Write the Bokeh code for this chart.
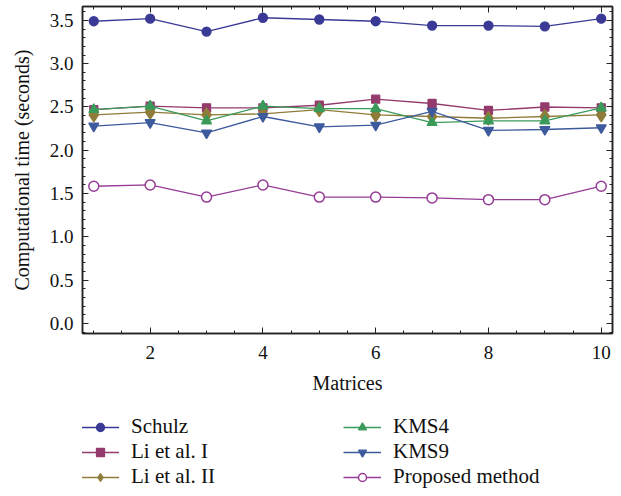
from bokeh.plotting import figure
from bokeh.layouts import column
from bokeh.models import Range1d, LinearAxis, Legend, LegendItem, SingleIntervalTicker, CustomJSTickFormatter
from bokeh.embed import file_html
from bokeh.resources import INLINE

matrices = [1, 2, 3, 4, 5, 6, 7, 8, 9, 10]
schulz = [3.49, 3.52, 3.37, 3.53, 3.51, 3.49, 3.44, 3.44, 3.43, 3.52]
li_1 = [2.47, 2.51, 2.49, 2.49, 2.52, 2.59, 2.54, 2.46, 2.50, 2.49]
li_2 = [2.41, 2.44, 2.41, 2.42, 2.47, 2.41, 2.39, 2.37, 2.39, 2.41]
kms4 = [2.47, 2.51, 2.34, 2.51, 2.48, 2.48, 2.32, 2.34, 2.34, 2.49]
kms9 = [2.28, 2.32, 2.20, 2.39, 2.27, 2.29, 2.45, 2.23, 2.24, 2.26]
proposed = [1.585, 1.60, 1.46, 1.60, 1.46, 1.46, 1.45, 1.43, 1.43, 1.585]

series_names = ["Schulz", "Li et al. I", "Li et al. II", "KMS4", "KMS9", "Proposed method"]
series_vals = [schulz, li_1, li_2, kms4, kms9, proposed]
colors = ["#3a3a96", "#943a6c", "#8f7c3a", "#3a9a5a", "#3d5a9c", "#963c96"]
markers = ["circle", "square", "diamond", "triangle", "inverted_triangle", "circle"]
sizes = [9, 8, 14, 10, 10, 10]
filled = [True, True, True, True, True, False]

FONT = "Liberation Serif"

p = figure(width=614, height=400, output_backend="svg", toolbar_location=None,
           x_range=Range1d(0.8, 10.2), y_range=Range1d(-0.115, 3.66),
           min_border_left=82, min_border_top=6, min_border_right=2, min_border_bottom=67)
p.grid.visible = False
p.outline_line_color = "#222222"
p.outline_line_width = 1.5

# legend-only panel below the chart (its own ranges keep the data out of view)
lg = figure(width=614, height=92, output_backend="svg", toolbar_location=None,
            x_axis_location=None, y_axis_location=None,
            x_range=Range1d(100, 101), y_range=Range1d(100, 101),
            min_border_left=0, min_border_top=0, min_border_right=0, min_border_bottom=0)
lg.grid.visible = False
lg.outline_line_color = None

items = []
for name, vals, c, m, s, f in zip(series_names, series_vals, colors, markers, sizes, filled):
    fc = c if f else "white"
    lw = 1.3 if f else 1.5
    p.line(matrices, vals, line_color=c, line_width=1.3)
    p.scatter(matrices, vals, marker=m, size=s, line_color=c, fill_color=fc, line_width=lw)
    ln = lg.line(matrices, vals, line_color=c, line_width=1.3)
    sc = lg.scatter(matrices, vals, marker=m, size=s, line_color=c, fill_color=fc, line_width=lw)
    items.append(LegendItem(label=name, renderers=[ln, sc]))

def style_axis(ax, labels=True):
    ax.major_tick_in = 6
    ax.major_tick_out = 0
    ax.minor_tick_in = 3
    ax.minor_tick_out = 0
    ax.axis_line_color = "#222222"
    ax.axis_line_width = 1.5
    ax.major_tick_line_color = "#222222"
    ax.minor_tick_line_color = "#222222"
    ax.major_label_text_font = FONT
    ax.major_label_text_font_size = "19px"
    ax.major_label_text_color = "#111111"
    ax.axis_label_text_font = FONT
    ax.axis_label_text_font_size = "20px"
    ax.axis_label_text_font_style = "normal"
    ax.axis_label_text_color = "#111111"
    if not labels:
        ax.major_label_standoff = 0
        ax.formatter = CustomJSTickFormatter(code="return '';")

p.xaxis.ticker = SingleIntervalTicker(interval=2, num_minor_ticks=4)
p.yaxis.ticker = SingleIntervalTicker(interval=0.5, num_minor_ticks=5)
p.yaxis.formatter = CustomJSTickFormatter(code="return tick.toFixed(1);")
p.xaxis.axis_label = "Matrices"
p.yaxis.axis_label = "Computational time (seconds)"
style_axis(p.xaxis[0])
style_axis(p.yaxis[0])
p.xaxis.major_label_standoff = 12
p.xaxis.axis_label_standoff = 10
p.yaxis.major_label_standoff = 9
p.yaxis.axis_label_standoff = 14

top = LinearAxis(ticker=SingleIntervalTicker(interval=2, num_minor_ticks=4))
style_axis(top, labels=False)
p.add_layout(top, "above")
right = LinearAxis(ticker=SingleIntervalTicker(interval=0.5, num_minor_ticks=5))
style_axis(right, labels=False)
p.add_layout(right, "right")

legend = Legend(items=items, orientation="vertical", nrows=3, location=(-1, 3),
                border_line_color=None, background_fill_alpha=0,
                label_text_font=FONT, label_text_font_size="21px", label_text_color="#111111",
                glyph_width=38, glyph_height=20, label_height=20, label_standoff=12,
                label_width=212, spacing=0, padding=4, margin=0)
lg.add_layout(legend, "center")

layout = column(p, lg, spacing=0)
open("out.html", "w").write(file_html(layout, INLINE))
